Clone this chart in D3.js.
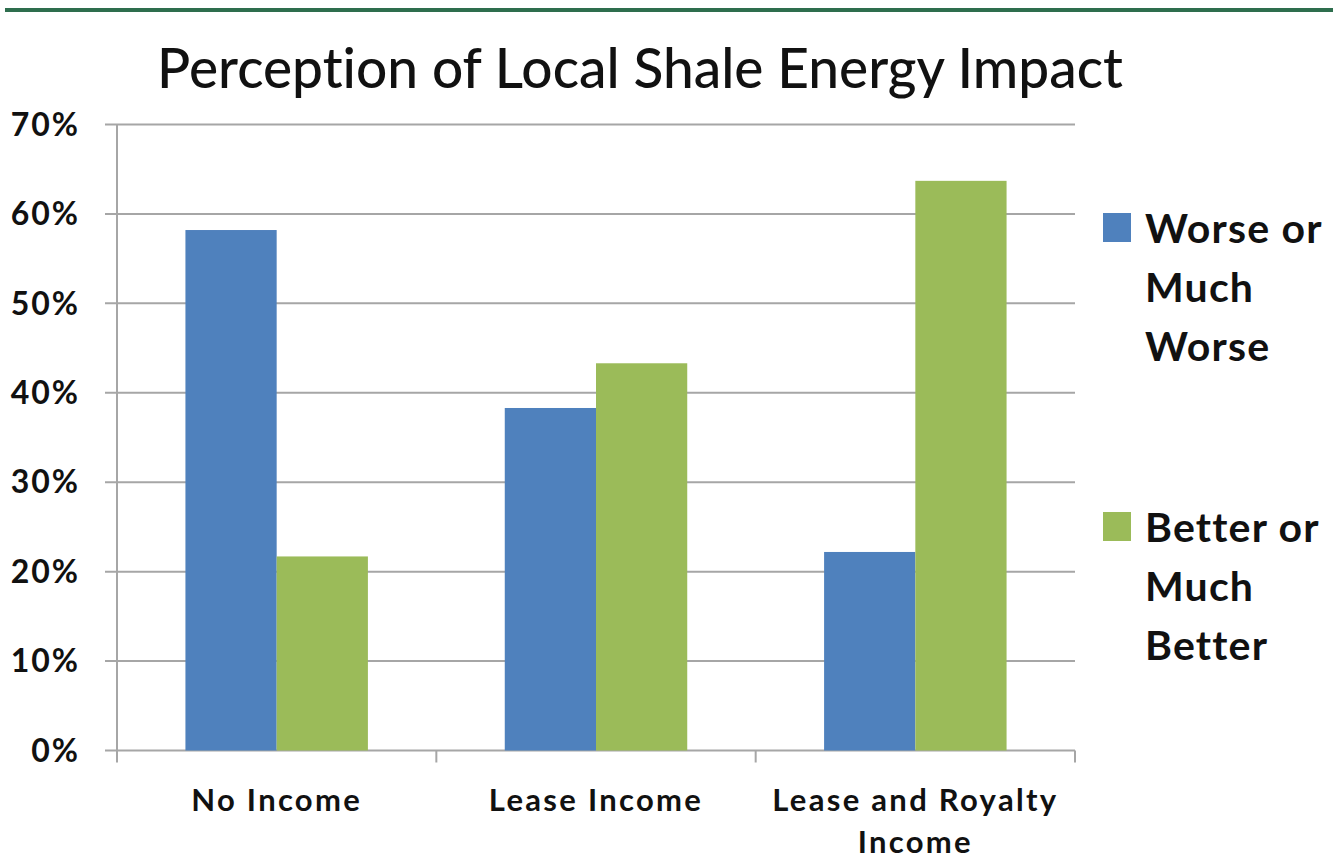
<!DOCTYPE html>
<html>
<head>
<meta charset="utf-8">
<script src="https://cdn.jsdelivr.net/npm/d3@7"></script>
<style>
  body { margin: 0; background: #fff; }
  text { font-family: Lato, "Open Sans", sans-serif; fill: #111; font-variant-ligatures: none; }
</style>
</head>
<body>
<div id="content"></div>
<script>
// chart data
const categories = ["No Income", "Lease Income", "Lease and Royalty Income"];
const seriesNames = ["Worse or Much Worse", "Better or Much Better"];
const worseValues = [58.2, 38.3, 22.2];
const betterValues = [21.7, 43.3, 63.7];
const yTicks = [0, 10, 20, 30, 40, 50, 60, 70];
const colors = ["#4f81bd", "#9bbb59"];

const width = 1337, height = 861;
const svg = d3.select("#content").append("svg")
  .attr("width", width).attr("height", height);

// green rule at the top
svg.append("rect").attr("x", 5).attr("y", 8).attr("width", 1328).attr("height", 4)
  .style("fill", "#2e6e4e");

svg.append("text")
  .attr("x", 640).attr("y", 88)
  .attr("text-anchor", "middle")
  .style("font-size", "55px")
  .style("font-weight", "500")
  .text("Perception of Local Shale Energy Impact");

let x_min = 117, x_max = 1075;
let y = d3.scaleLinear().domain([0, 70]).range([750.5, 124.5]);
let x0 = d3.scaleBand().domain(categories).range([x_min, x_max]).paddingInner(0).paddingOuter(0);
let x1 = d3.scaleBand().domain(seriesNames).range([0, x0.bandwidth()]).paddingInner(0).paddingOuter(0.75);

// gridlines
svg.append("g").selectAll("line").data(yTicks).join("line")
  .attr("x1", 105).attr("x2", x_max)
  .attr("y1", d => y(d)).attr("y2", d => y(d))
  .style("stroke", "#a6a6a6").style("stroke-width", 2);

// y axis line
svg.append("line").attr("x1", x_min).attr("x2", x_min)
  .attr("y1", y(70)).attr("y2", y(0) + 10)
  .style("stroke", "#a6a6a6").style("stroke-width", 2);

// x tick marks at category boundaries
let bounds = categories.map(c => x0(c)).concat([x_max]);
svg.append("g").selectAll("line").data(bounds).join("line")
  .attr("x1", d => d).attr("x2", d => d)
  .attr("y1", y(0)).attr("y2", y(0) + 12)
  .style("stroke", "#a6a6a6").style("stroke-width", 2);

// y labels
svg.append("g").selectAll("text").data(yTicks).join("text")
  .attr("x", 80).attr("y", d => y(d))
  .attr("dy", "0.35em")
  .attr("text-anchor", "end")
  .style("font-size", "32px").style("font-weight", "bold")
  .style("letter-spacing", "2px")
  .text(d => d + "%");

// bars
let rows = categories.map((c, i) => ({cat: c, vals: [worseValues[i], betterValues[i]]}));
let groups = svg.append("g").selectAll("g").data(rows).join("g")
  .attr("transform", d => `translate(${x0(d.cat)},0)`);
groups.selectAll("rect").data(d => d.vals.map((v, j) => ({name: seriesNames[j], v: v, j: j}))).join("rect")
  .attr("x", d => x1(d.name))
  .attr("width", x1.bandwidth())
  .attr("y", d => y(d.v))
  .attr("height", d => y(0) - y(d.v))
  .style("fill", d => colors[d.j]);

// x labels
let catLines = [["No Income"], ["Lease Income"], ["Lease and Royalty", "Income"]];
svg.append("g").selectAll("text").data(categories).join("text")
  .attr("text-anchor", "middle")
  .attr("x", d => x0(d) + x0.bandwidth() / 2)
  .attr("y", 811)
  .style("font-size", "31px").style("font-weight", "bold")
  .style("letter-spacing", "2.3px")
  .each(function(d, i) {
    d3.select(this).selectAll("tspan").data(catLines[i]).join("tspan")
      .attr("x", x0(d) + x0.bandwidth() / 2)
      .attr("dy", (t, k) => k == 0 ? 0 : 42)
      .text(t => t);
  });

// legend
let legendLines = [["Worse or", "Much", "Worse"], ["Better or", "Much", "Better"]];
let legendTop = [228, 527];
legendLines.forEach(function(lines, i) {
  svg.append("rect").attr("x", 1103).attr("y", legendTop[i] - 15)
    .attr("width", 28).attr("height", 29).style("fill", colors[i]);
  let t = svg.append("text").attr("x", 1145).attr("y", legendTop[i])
    .style("font-size", "41px").style("font-weight", "bold")
    .style("letter-spacing", "1.2px");
  t.selectAll("tspan").data(lines).join("tspan")
    .attr("x", 1145)
    .attr("dy", (l, k) => k == 0 ? "0.36em" : 59)
    .text(l => l);
});
</script>
</body>
</html>
